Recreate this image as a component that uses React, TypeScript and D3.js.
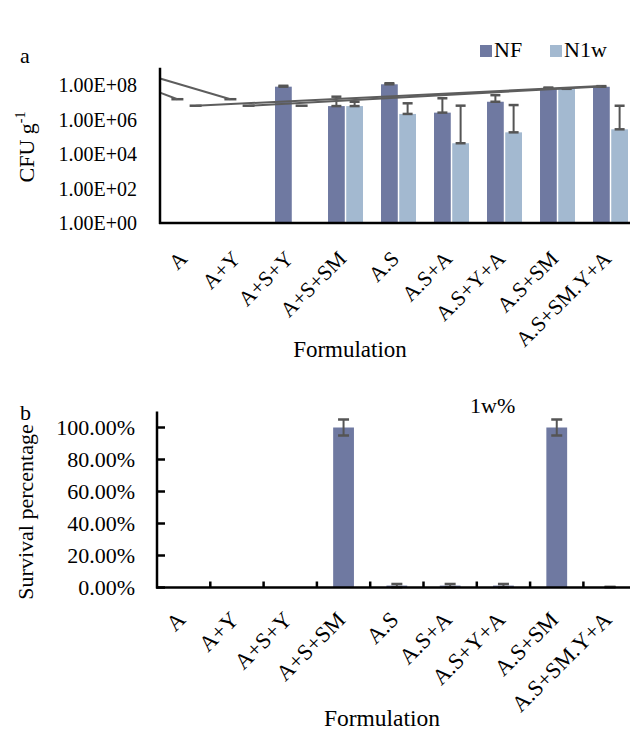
import * as d3 from 'd3'

const categories = ['A', 'A+Y', 'A+S+Y', 'A+S+SM', 'A.S', 'A.S+A', 'A.S+Y+A', 'A.S+SM', 'A.S+SM.Y+A']
const seriesKeys = ['NF', 'N1w']
const seriesColors = ['#6f79a1', '#a3b9d0']

// panel a: CFU per gram (log axis), zero means "no bar"
const nfValues = [0, 0, 8e7, 6e6, 1.1e8, 2.5e6, 1.07e7, 6.5e7, 7.9e7]
const nfErrors = [0, 0, 1e7, 1.5e7, 1.6e7, 1.45e7, 1.5e7, 6e6, 7e6]
const n1wValues = [0, 0, 0, 6e6, 2.1e6, 4.2e4, 1.8e5, 6e7, 2.7e5]
const n1wErrors = [0, 0, 0, 4.7e6, 6.6e6, 6.3e6, 6.7e6, 5e6, 6e6]
const cfuTicks = [1, 1e2, 1e4, 1e6, 1e8]

// excel leftovers: caps of the empty bars and the slanted lines that hang off them
const zeroCaps = [
  { cat: 'A', key: 'NF', value: 1.5e7 },
  { cat: 'A+Y', key: 'NF', value: 1.5e7 },
  { cat: 'A', key: 'N1w', value: 6.3e6 },
  { cat: 'A+Y', key: 'N1w', value: 6.3e6 },
  { cat: 'A+S+Y', key: 'N1w', value: 6.3e6 },
]
const strayLines = [
  { from: { cat: null, key: null, value: 2.4e8 }, to: { cat: 'A+Y', key: 'NF', value: 1.5e7 } },
  { from: { cat: null, key: null, value: 3.6e7 }, to: { cat: 'A', key: 'NF', value: 1.5e7 } },
  { from: { cat: 'A', key: 'N1w', value: 6.3e6 }, to: { cat: 'A.S+SM.Y+A', key: 'NF', value: 8.7e7 } },
  { from: { cat: 'A+Y', key: 'N1w', value: 6.3e6 }, to: { cat: 'A.S+SM.Y+A', key: 'NF', value: 8.2e7 } },
]

// panel b: survival after 1 week
const survivalValues = [0, 0, 0, 1.0, 0.012, 0.012, 0.012, 1.0, 0.003]
const survivalErrors = [0, 0, 0, 0.05, 0.01, 0.01, 0.01, 0.05, 0]
const survivalTicks = [0, 0.2, 0.4, 0.6, 0.8, 1.0]

const W = 630
const H = 733
const font = '"Liberation Serif", "Times New Roman", serif'
const errColor = '#555'

const sci = (v: number) => {
  const [m, e] = d3.format('.2e')(v).split('e')
  const sign = e[0] === '-' ? '-' : '+'
  return `${m}E${sign}${e.replace(/[+-]/, '').padStart(2, '0')}`
}

function PanelA() {
  const left = 160
  const bottom = 223
  const x0 = d3.scaleBand().domain(categories).range([left, left + 9 * 53]).paddingInner(0.34).paddingOuter(0.17)
  const x1 = d3.scaleBand().domain(seriesKeys).range([0, x0.bandwidth()]).paddingInner(0.08)
  const y = d3.scaleLog().domain([1, 1e9]).range([bottom, bottom - 9 * 17.25])
  const bw = x1.bandwidth()
  const cx = (cat: string | null, key: string | null) =>
    cat == null ? left : (x0(cat) as number) + (x1(key as string) as number) + bw / 2

  const bars = categories.flatMap((c, i) => [
    { cat: c, key: 'NF', value: nfValues[i], err: nfErrors[i], color: seriesColors[0] },
    { cat: c, key: 'N1w', value: n1wValues[i], err: n1wErrors[i], color: seriesColors[1] },
  ]).filter((d) => d.value > 0)

  return (
    <g>
      <text x={20} y={63} fontSize={22}>a</text>
      {cfuTicks.map((t) => (
        <text key={t} x={137} y={y(t)} dy="0.35em" textAnchor="end" fontSize={20}>{sci(t)}</text>
      ))}
      <text transform={`translate(34,147) rotate(-90)`} textAnchor="middle" fontSize={22}>
        CFU g<tspan fontSize={14} dy={-9}>-1</tspan>
      </text>

      {bars.map((d) => (
        <rect key={d.cat + d.key} x={(x0(d.cat) as number) + (x1(d.key) as number)} width={bw}
          y={y(d.value)} height={bottom - y(d.value)} fill={d.color} />
      ))}

      {bars.map((d) => {
        const xc = cx(d.cat, d.key)
        const top = y(d.value + d.err)
        return (
          <g key={'e' + d.cat + d.key} stroke={errColor} strokeWidth={2}>
            <line x1={xc} x2={xc} y1={top} y2={y(d.value)} />
            <line x1={xc - 5} x2={xc + 5} y1={top} y2={top} strokeWidth={2.5} />
            <line x1={xc - 5} x2={xc + 5} y1={y(d.value)} y2={y(d.value)} strokeWidth={2.5} />
          </g>
        )
      })}

      {zeroCaps.map((d, i) => {
        const xc = cx(d.cat, d.key)
        return <line key={'z' + i} x1={xc - 6} x2={xc + 6} y1={y(d.value)} y2={y(d.value)} stroke={errColor} strokeWidth={2.5} />
      })}
      {strayLines.map((l, i) => (
        <line key={'s' + i} x1={cx(l.from.cat, l.from.key)} y1={y(l.from.value)}
          x2={cx(l.to.cat, l.to.key)} y2={y(l.to.value)} stroke="#5d5d5d" strokeWidth={2} />
      ))}

      <line x1={left} x2={left} y1={y(1e9)} y2={bottom + 1} stroke="#000" strokeWidth={2.5} />
      <line x1={left - 1} x2={W} y1={bottom} y2={bottom} stroke="#000" strokeWidth={2.5} />

      {categories.map((c) => (
        <text key={c} transform={`translate(${(x0(c) as number) + x0.bandwidth() / 2 + 2},260) rotate(-45)`}
          textAnchor="end" fontSize={21.5}>{c}</text>
      ))}
      <text x={350} y={357} textAnchor="middle" fontSize={23}>Formulation</text>

      {seriesKeys.map((k, i) => (
        <g key={k} transform={`translate(${480 + i * 70},45)`}>
          <rect width={12} height={12} fill={seriesColors[i]} />
          <text x={14} y={12} fontSize={22}>{k}</text>
        </g>
      ))}
    </g>
  )
}

function PanelB() {
  const left = 157
  const bottom = 587.5
  const step = 53.3
  const x = d3.scaleBand().domain(categories).range([left, left + 9 * step]).paddingInner(0.61).paddingOuter(0.305)
  const y = d3.scaleLinear().domain([0, 1.1]).range([bottom, bottom - 1.1 * 160])
  const pct = d3.format('.2%')

  return (
    <g>
      <text x={20} y={420} fontSize={22}>b</text>
      <text x={470} y={413} fontSize={22}>1w%</text>
      {survivalTicks.map((t) => (
        <g key={t}>
          <text x={135} y={y(t)} dy="0.35em" textAnchor="end" fontSize={22}>{pct(t)}</text>
          <line x1={left} x2={left + 8} y1={y(t)} y2={y(t)} stroke="#000" strokeWidth={2.5} />
        </g>
      ))}
      <text transform={`translate(33,512) rotate(-90)`} textAnchor="middle" fontSize={22}>Survival percentage</text>

      {categories.map((c, i) => (
        <rect key={c} x={x(c)} width={x.bandwidth()} y={y(survivalValues[i])}
          height={bottom - y(survivalValues[i])} fill={seriesColors[0]} />
      ))}
      {categories.map((c, i) => {
        if (survivalValues[i] === 0) return null
        const xc = (x(c) as number) + x.bandwidth() / 2
        const hi = y(survivalValues[i] + survivalErrors[i])
        const lo = y(Math.max(0, survivalValues[i] - survivalErrors[i]))
        return (
          <g key={'e' + c} stroke={errColor} strokeWidth={2}>
            <line x1={xc} x2={xc} y1={hi} y2={lo} />
            <line x1={xc - 5.5} x2={xc + 5.5} y1={hi} y2={hi} strokeWidth={2.5} />
            <line x1={xc - 5.5} x2={xc + 5.5} y1={lo} y2={lo} strokeWidth={2.5} />
          </g>
        )
      })}

      {categories.slice(1).map((c) => (
        <line key={'t' + c} x1={(x(c) as number) - x.step() * 0.305} x2={(x(c) as number) - x.step() * 0.305}
          y1={bottom} y2={bottom - 6} stroke="#000" strokeWidth={2.5} />
      ))}
      <line x1={left} x2={left} y1={y(1.1)} y2={bottom + 1} stroke="#000" strokeWidth={2.5} />
      <line x1={left - 1} x2={W} y1={bottom} y2={bottom} stroke="#000" strokeWidth={2.5} />

      {categories.map((c) => (
        <text key={c} transform={`translate(${(x(c) as number) + x.bandwidth() / 2 + 3},621) rotate(-45)`}
          textAnchor="end" fontSize={22.5}>{c}</text>
      ))}
      <text x={382} y={726} textAnchor="middle" fontSize={23.5}>Formulation</text>
    </g>
  )
}

export default function App() {
  return (
    <svg width={W} height={H} style={{ position: 'absolute', left: 0, top: 0, background: '#fff' }}
      fontFamily={font}>
      <PanelA />
      <PanelB />
    </svg>
  )
}
